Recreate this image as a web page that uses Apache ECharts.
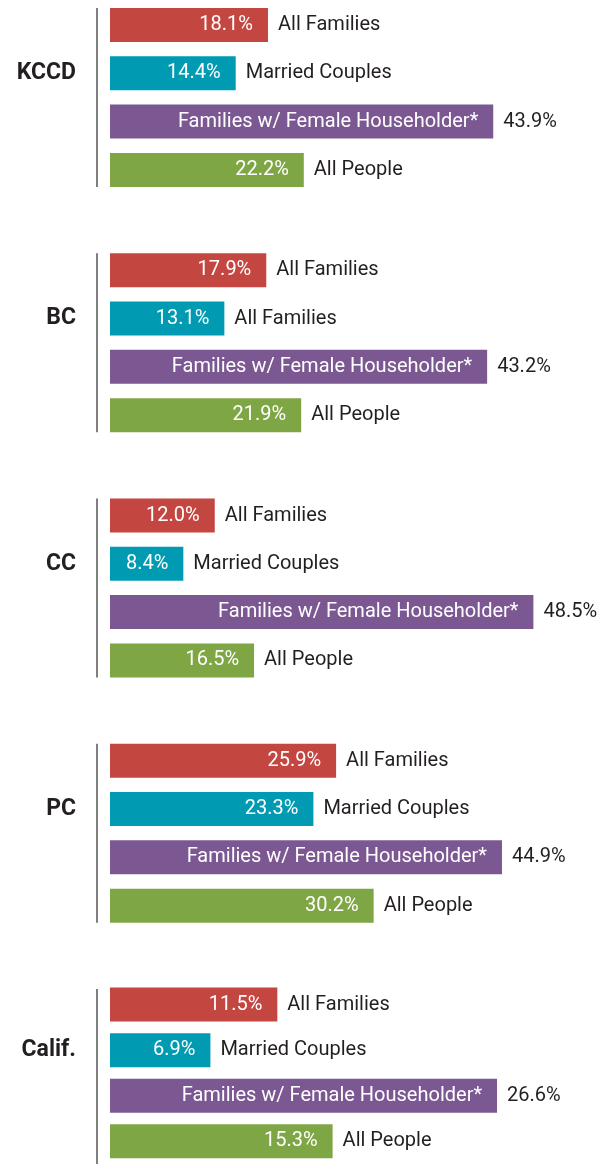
<!DOCTYPE html>
<html>
<head>
<meta charset="utf-8">
<script src="https://cdn.jsdelivr.net/npm/echarts@6/dist/echarts.min.js"></script>
<style>
  html, body { margin: 0; padding: 0; background: #fff; }
  #chart { width: 608px; height: 1164px; }
</style>
</head>
<body>
<div id="chart"></div>
<script>
// data
const groups = ["KCCD", "BC", "CC", "PC", "Calif."];
const rowNames = [
  ["All Families", "Married Couples", "Families w/ Female Householder*", "All People"],
  ["All Families", "All Families", "Families w/ Female Householder*", "All People"],
  ["All Families", "Married Couples", "Families w/ Female Householder*", "All People"],
  ["All Families", "Married Couples", "Families w/ Female Householder*", "All People"],
  ["All Families", "Married Couples", "Families w/ Female Householder*", "All People"]
];
const kccdValues = [18.1, 14.4, 43.9, 22.2];
const bcValues = [17.9, 13.1, 43.2, 21.9];
const ccValues = [12.0, 8.4, 48.5, 16.5];
const pcValues = [25.9, 23.3, 44.9, 30.2];
const califValues = [11.5, 6.9, 26.6, 15.3];
const groupValues = [kccdValues, bcValues, ccValues, pcValues, califValues];

// layout / style
const barColors = ["#c44641", "#009bb2", "#7c5892", "#7ea644"];
const textColor = "#231f20";
const font = "Roboto";
const firstTop = 8;     // top of first bar
const groupStep = 245.25;
const rowStep = 48.3;
const barH = 34;
const left = 110;
// px per percent (the Calif. panel is drawn on a wider scale in the original)
const pxPer = [8.73, 8.73, 8.73, 8.73, 14.55];
const axisMax = [55, 55, 55, 55, 30];

const chart = echarts.init(document.getElementById("chart"), null, { renderer: "canvas" });

const grid = [], xAxis = [], yAxis = [], series = [], graphic = [];

groups.forEach((name, g) => {
  const top = firstTop + groupStep * g;
  grid.push({
    left: left,
    top: top - (rowStep - barH) / 2,
    width: axisMax[g] * pxPer[g],
    height: rowStep * 4,
    containLabel: false
  });
  xAxis.push({
    gridIndex: g, type: "value", min: 0, max: axisMax[g],
    show: false
  });
  yAxis.push({
    gridIndex: g, type: "category", inverse: true,
    data: rowNames[g],
    axisLine: { show: false }, axisTick: { show: false },
    axisLabel: {
      interval: 0, margin: 34, align: "right",
      fontFamily: font, fontWeight: "bold", fontSize: 23, color: textColor,
      formatter: (v, i) => (i === 1 ? name : "")
    }
  });

  const vals = groupValues[g];
  const fmt = v => v.toFixed(1) + "%";

  // coloured bars, label inside
  series.push({
    type: "bar", xAxisIndex: g, yAxisIndex: g,
    barWidth: barH, barGap: "-100%", silent: true,
    data: vals.map((v, i) => ({ value: v, itemStyle: { color: barColors[i] } })),
    label: {
      show: true, position: "insideRight", distance: 15,
      color: "#fff", fontFamily: font, fontSize: 20,
      formatter: p => (p.dataIndex === 2 ? rowNames[g][2] : fmt(p.value))
    }
  });
  // invisible twin, label outside
  series.push({
    type: "bar", xAxisIndex: g, yAxisIndex: g,
    barWidth: barH, barGap: "-100%", silent: true,
    itemStyle: { color: "rgba(0,0,0,0)" },
    data: vals.slice(),
    label: {
      show: true, position: "right", distance: 10,
      color: textColor, fontFamily: font, fontSize: 20,
      formatter: p => (p.dataIndex === 2 ? fmt(p.value) : rowNames[g][p.dataIndex])
    }
  });

  // group divider line
  graphic.push({
    type: "line", silent: true,
    shape: { x1: 97, y1: top, x2: 97, y2: top + rowStep * 3 + barH },
    style: { stroke: "#555", lineWidth: 1.5 }
  });
});

chart.setOption({
  animation: false,
  textStyle: { fontFamily: font },
  grid, xAxis, yAxis, series, graphic
});
</script>
</body>
</html>
